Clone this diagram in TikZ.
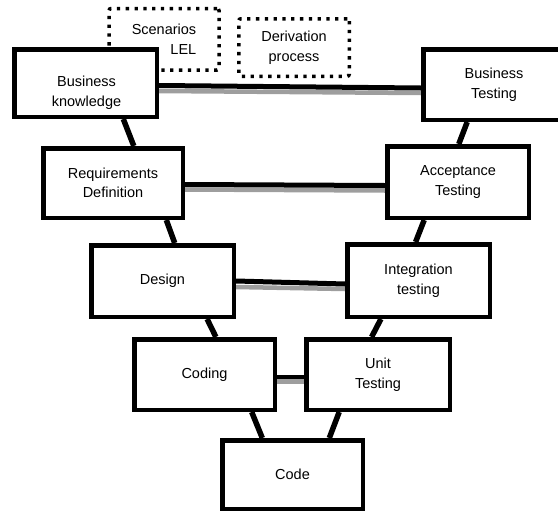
\documentclass[tikz,border=0pt]{standalone}
\usepackage{fontspec}
\setmainfont{Liberation Sans}
\usetikzlibrary{backgrounds}
\begin{document}
\begin{tikzpicture}[x=1pt,y=-1pt,
  lbl/.style={font=\fontsize{14.5}{19.5}\selectfont},
  box/.style={lbl, draw=black, line width=4.5pt, fill=white, align=center, inner sep=0pt},
  txt/.style={lbl, align=center, inner sep=0pt},
  dotbox/.style={lbl, draw=black, line width=3.5pt, dash pattern=on 3.3pt off 5.5pt, rounded corners=2pt, align=right, inner sep=0pt},
  link/.style={line width=5.5pt, black},
  bar/.style={line width=5pt, black},
  shade/.style={line width=4.5pt, black!38},
]
\clip (0,0) rectangle (558,512);
% dotted boxes (behind)
\node[dotbox, minimum width=110pt, minimum height=61.5pt] (scen) at (164,39.25) {Scenarios\\LEL};
\node[dotbox, align=center, minimum width=110.5pt, minimum height=57.5pt] (deriv) at (294,47.5) {Derivation\\process};
% main boxes
\node[box, minimum width=142.5pt, minimum height=67.5pt] (bk) at (85.5,83) {};
\node[txt] (bkt) at (86.5,92.5) {Business\\knowledge};
\node[box, minimum width=139.5pt, minimum height=69.5pt] (rd) at (113,183) {Requirements\\Definition};
\node[box, minimum width=142.5pt, minimum height=71.5pt] (de) at (162.5,281) {Design};
\node[box, minimum width=140.5pt, minimum height=70.5pt] (co) at (204.5,374.5) {Coding};
\node[box, minimum width=140.5pt, minimum height=68.5pt] (cd) at (292.5,474.5) {Code};
\node[box, minimum width=143.5pt, minimum height=70.5pt] (ut) at (378,374.5) {Unit\\Testing};
\node[box, minimum width=142.5pt, minimum height=72.5pt] (it) at (418.5,280.5) {Integration\\testing};
\node[box, minimum width=141.5pt, minimum height=71.5pt] (at) at (458,182) {Acceptance\\Testing};
\node[box, minimum width=141.5pt, minimum height=70.5pt] (bt) at (494,84.5) {Business\\Testing};
% connectors behind the boxes
\begin{scope}[on background layer]
  % horizontal bars with grey shadow
  \draw[shade] ([yshift=-8pt]bk.east) -- ([yshift=-8.5pt]bt.west);
  \draw[bar] ([yshift=-2.5pt]bk.east) -- ([yshift=-3.5pt]bt.west);
  \draw[shade] ([yshift=-6.5pt]rd.east) -- ([yshift=-8.5pt]at.west);
  \draw[bar] ([yshift=-1.5pt]rd.east) -- ([yshift=-3.5pt]at.west);
  \draw[shade] ([yshift=-6pt]de.east) -- ([yshift=-8.5pt]it.west);
  \draw[bar] ([yshift=0pt]de.east) -- ([yshift=-3.5pt]it.west);
  \draw[shade] ([yshift=-7pt]co.east) -- ([yshift=-7pt]ut.west);
  \draw[bar, line width=4pt] ([yshift=-2pt]co.east) -- ([yshift=-2pt]ut.west);
  % diagonal links
  \draw[link] ([xshift=37.8pt]bk.south) -- ([xshift=20.8pt]rd.north);
  \draw[link] ([xshift=53.3pt]rd.south) -- ([xshift=12.2pt]de.north);
  \draw[link] ([xshift=44.6pt]de.south) -- ([xshift=11.4pt]co.north);
  \draw[link] ([xshift=47.2pt]co.south) -- ([xshift=-30.2pt]cd.north);
  \draw[link] ([xshift=-38.8pt]ut.south) -- ([xshift=36.8pt]cd.north);
  \draw[link] ([xshift=-37.6pt]it.south) -- ([xshift=-6.4pt]ut.north);
  \draw[link] ([xshift=-33.8pt]at.south) -- ([xshift=-2.9pt]it.north);
  \draw[link] ([xshift=-26.8pt]bt.south) -- ([xshift=0.8pt]at.north);
\end{scope}
\end{tikzpicture}
\end{document}
